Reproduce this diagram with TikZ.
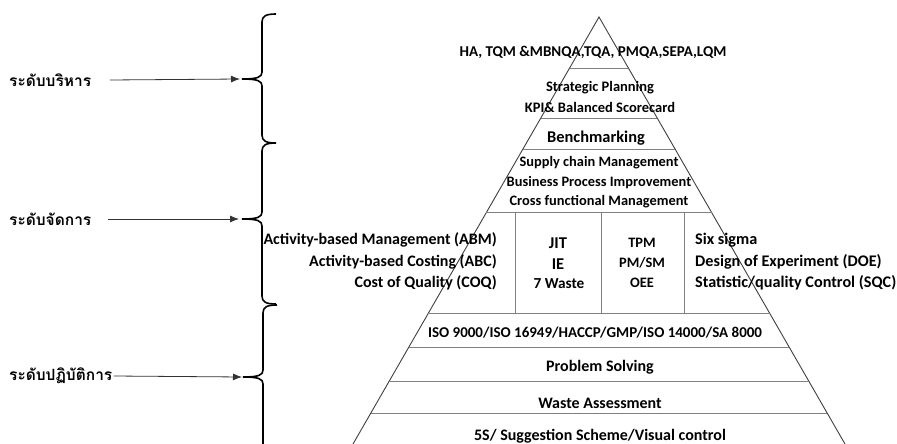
\documentclass[tikz,border=0pt]{standalone}
\usepackage{fontspec}
\setmainfont{Carlito}
\newfontfamily\thaifont[Script=Thai]{Loma}
\usetikzlibrary{arrows.meta}

% curly brace with a long tip pointing left
\newcommand\levelbrace[5]{% x, top, middle, bottom, tip name
  \draw[bracestyle] ({#1+14},#2) .. controls ({#1+4},#2) and (#1,{#2+2}) .. (#1,{#2+8})
    -- (#1,{#3-7}) .. controls (#1,{#3-2}) and ({#1-4},#3) .. ({#1-20},#3)
    coordinate (#5)
    .. controls ({#1-4},#3) and (#1,{#3+2}) .. (#1,{#3+7})
    -- (#1,{#4-8}) .. controls (#1,{#4-2}) and ({#1+4},#4) .. ({#1+14},#4);
}

\begin{document}
\begin{tikzpicture}[x=1pt,y=-1pt,
  edge/.style={draw=black!75, line width=0.9pt},
  sep/.style={draw=black!50, line width=0.8pt},
  bracestyle/.style={draw=black, line width=1.6pt},
  arr/.style={draw=black!80, line width=0.8pt, -{Latex[length=9pt,width=7pt]}},
  lbl/.style={font=\bfseries\fontsize{#1}{#1}\selectfont, inner sep=0pt},
  lbl/.default=13,
  thai/.style={font=\thaifont\bfseries\fontsize{15.5}{15.5}\selectfont, inner sep=0pt, anchor=west}]

\useasboundingbox (0,0) rectangle (897,444);
\fill[white] (0,0) rectangle (897,444);

\begin{scope}
\clip (0,0) rectangle (897,444);
% pyramid outline
\coordinate (apex) at (599,17);
\draw[edge] (353,444) -- (apex) -- (845,444);
% layer separators
\foreach \y in {68,118,149,212,313,347,381,413}
  \draw[sep] ({599-0.577*(\y-17)},\y) -- ({599+0.577*(\y-17)},\y);
% column dividers of the middle layer
\foreach \x in {515,601,684}
  \draw[sep] (\x,212) -- (\x,313);

% braces of the three levels
\levelbrace{262}{14}{79}{143}{tip1}
\levelbrace{262}{143}{219}{304}{tip2}
\levelbrace{263}{305}{377}{470}{tip3}
\end{scope}

% level labels and arrows
\node[thai] (lv1) at (9,80) {ระดับบริหาร};
\node[thai] (lv2) at (9,219) {ระดับจัดการ};
\node[thai] (lv3) at (9,376) {ระดับปฏิบัติการ};
\draw[arr] (110,80) -- ([xshift=-2pt]tip1);
\draw[arr] (108,219) -- ([xshift=-3pt]tip2);
\draw[arr] ([xshift=1pt]lv3.east) -- ([xshift=-1pt]tip3);

% pyramid contents
\node[lbl=15] (t1) at (593,52) {HA, TQM \&MBNQA,TQA, PMQA,SEPA,LQM};
\node[lbl=14.5] (t2) at (600,88) {Strategic Planning};
\node[lbl=14.5] (t3) at (600,107) {KPI\& Balanced Scorecard};
\node[lbl=16.4] (t4) at (596,138) {Benchmarking};
\node[lbl=14.4] (t5) at (599,163) {Supply chain Management};
\node[lbl=14.4] (t6) at (599,183) {Business Process Improvement};
\node[lbl=14.4] (t7) at (599,202) {Cross functional Management};

\node[lbl=16, anchor=east] (a1) at (497,240) {Activity-based Management (ABM)};
\node[lbl=16, anchor=east] (a2) at (497,262) {Activity-based Costing (ABC)};
\node[lbl=16, anchor=east] (a3) at (497,283) {Cost of Quality (COQ)};

\node[lbl=16.5] (j1) at (558,243) {JIT};
\node[lbl=16.5] (j2) at (558,264) {IE};
\node[lbl=15.3] (j3) at (559,284) {7 Waste};

\node[lbl=14.4] (p1) at (642,243) {TPM};
\node[lbl=14.4] (p2) at (642,263) {PM/SM};
\node[lbl=14.4] (p3) at (642,283) {OEE};

\node[lbl=16.2, anchor=west] (s1) at (695,240) {Six sigma};
\node[lbl=16.2, anchor=west] (s2) at (695,262) {Design of Experiment (DOE)};
\node[lbl=16.2, anchor=west] (s3) at (695,283) {Statistic/quality Control (SQC)};

\node[lbl=15] (b1) at (595,333) {ISO 9000/ISO 16949/HACCP/GMP/ISO 14000/SA 8000};
\node[lbl=16] (b2) at (600,367) {Problem Solving};
\node[lbl=16] (b3) at (600,403) {Waste Assessment};
\node[lbl=16] (b4) at (600,436) {5S/ Suggestion Scheme/Visual control};
\end{tikzpicture}
\end{document}
